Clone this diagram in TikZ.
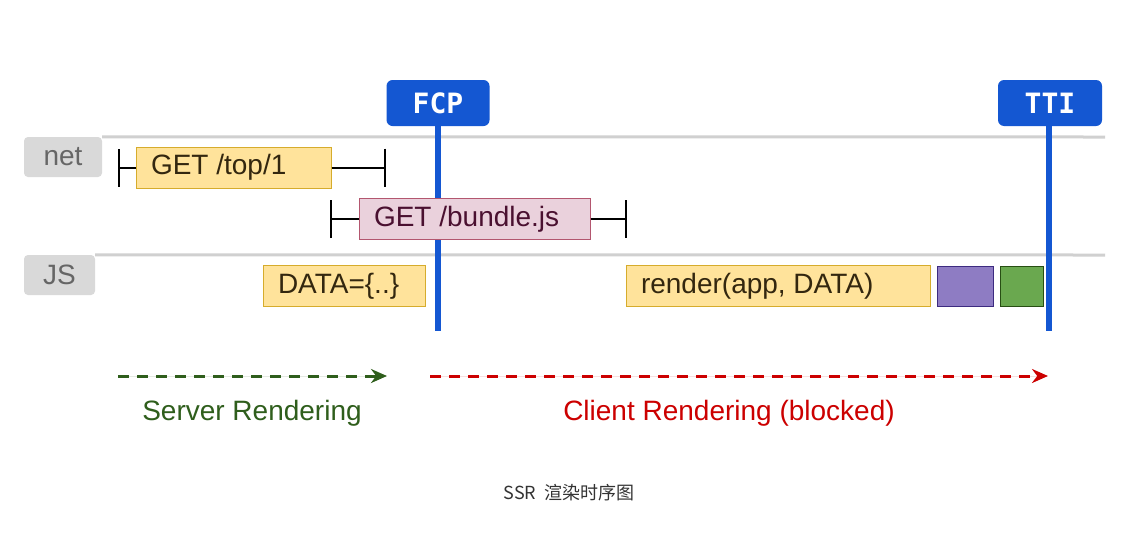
\documentclass[tikz,border=0pt]{standalone}
\usepackage{fontspec}
\setmainfont{Liberation Sans}
\newfontfamily\cjk{Noto Sans CJK SC}
\newfontfamily\badgefont{DejaVu Sans Mono}
\usetikzlibrary{arrows.meta,positioning}
\definecolor{rule}{HTML}{D0D0D0}
\definecolor{tagbg}{HTML}{D9D9D9}
\definecolor{taginkc}{HTML}{666666}
\definecolor{markblue}{HTML}{1457D2}
\definecolor{amberbg}{HTML}{FFE39B}
\definecolor{amberline}{HTML}{D6AC2C}
\definecolor{amberink}{HTML}{33270F}
\definecolor{pinkbg}{HTML}{EAD1DC}
\definecolor{pinkline}{HTML}{B3566F}
\definecolor{pinkink}{HTML}{4A1030}
\definecolor{violetbg}{HTML}{8E7CC3}
\definecolor{violetline}{HTML}{3D2B80}
\definecolor{greenbg}{HTML}{6AA84F}
\definecolor{greenline}{HTML}{274E13}
\definecolor{serverc}{HTML}{2F5E1C}
\definecolor{clientc}{HTML}{CC0000}
\definecolor{captionc}{HTML}{333333}
\tikzset{
  >=Stealth,
  every node/.style={font=\fontsize{28}{31}\selectfont,inner sep=0pt},
  lane/.style={draw=rule,line width=3pt},
  lanetag/.style={fill=tagbg,text=taginkc,rounded corners=4pt,minimum height=40pt},
  badge/.style={fill=markblue,text=white,rounded corners=6pt,minimum height=46pt,font=\badgefont\bfseries\fontsize{28}{30}\selectfont},
  marker/.style={draw=markblue,line width=6pt},
  task/.style={draw=amberline,fill=amberbg,text=amberink,line width=1pt,align=flush left,inner xsep=15pt,minimum height=41pt},
  fetch/.style={task,draw=pinkline,fill=pinkbg,text=pinkink},
  chunk/.style={draw=violetline,fill=violetbg,line width=1pt,minimum height=40pt},
  chunkgreen/.style={chunk,draw=greenline,fill=greenbg},
  whisker/.style={draw=black,line width=2pt},
  phase/.style={line width=3pt,dash pattern=on 11pt off 8pt,-{Stealth[length=16pt,width=14pt]}},
  phaselabel/.style={font=\fontsize{28}{31}\selectfont}
}
\begin{document}
\begin{tikzpicture}[x=1pt,y=-1pt]
  \useasboundingbox[fill=white] (0,0) rectangle (1139,536);

  \node[lanetag,minimum width=78pt] (nettag) at (63,157) {net};
  \node[lanetag,minimum width=71pt] (jstag) at (59.5,275) {JS};
  \coordinate (netend) at (1105,137);
  \coordinate (jsend) at (1105,255);
  \draw[lane] (nettag.north east) -- (netend);
  \draw[lane] (jstag.north east) -- (jsend);

  \node[badge,minimum width=103pt] (fcp) at (438,103) {FCP};
  \node[badge,minimum width=104pt] (tti) at (1050,103) {TTI};
  \coordinate (fcpend) at (438,331);
  \coordinate (ttiend) at (1049,331);
  \draw[marker] (fcp.south) -- (fcpend);
  \draw[marker] (tti.south -| ttiend) -- (ttiend);

  \node[task,text width=165pt] (top) at (233.5,167.5) {GET /top/1};
  \node[fetch,text width=201pt] (bundle) at (474.5,219) {GET /bundle.js};
  \node[task,text width=132pt] (data) at (344,286) {DATA=\{..\}};
  \node[task,text width=274pt] (render) at (778,286) {render(app, DATA)};
  \node[chunk,minimum width=56pt,right=6pt of render] (mount) {};
  \node[chunkgreen,minimum width=43pt,right=6pt of mount] (hydrate) {};

  \coordinate (topL) at (118,167.5);
  \coordinate (topR) at (386,167.5);
  \coordinate (bundleL) at (330,219);
  \coordinate (bundleR) at (627,219);
  \draw[whisker,{Bar[width=38pt]}-] (topL) -- (top.west);
  \draw[whisker,-{Bar[width=38pt]}] (top.east) -- (topR);
  \draw[whisker,{Bar[width=38pt]}-] (bundleL) -- (bundle.west);
  \draw[whisker,-{Bar[width=38pt]}] (bundle.east) -- (bundleR);

  \coordinate (srvL) at (118,376);
  \coordinate (srvR) at (387,376);
  \coordinate (cliL) at (430,376);
  \coordinate (cliR) at (1048,376);
  \draw[phase,draw=serverc,fill=serverc] (srvL) -- (srvR);
  \draw[phase,draw=clientc,fill=clientc] (cliL) -- (cliR);
  \node[phaselabel,text=serverc] (srvlabel) at (252,413) {Server Rendering};
  \node[phaselabel,text=clientc] (clilabel) at (729,413) {Client Rendering (blocked)};

  \node[font=\cjk\fontsize{18}{21}\selectfont,text=captionc] (caption) at (569,493) {SSR\ \ 渲染时序图};
\end{tikzpicture}
\end{document}
